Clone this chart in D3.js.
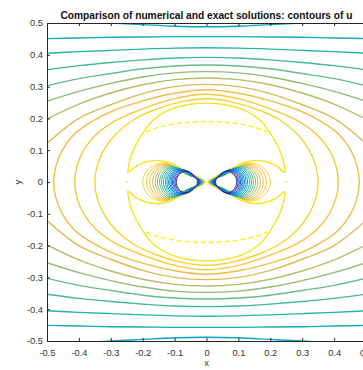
<!DOCTYPE html>
<html>
<head>
<meta charset="utf-8">
<script src="https://cdn.jsdelivr.net/npm/d3@7"></script>
<style>
body { margin: 0; background: #fff; }
text { font-family: "Liberation Sans", Arial, sans-serif; }
</style>
</head>
<body>
<div id="chart"></div>
<script>
// ---- data (upper-left quarter, mirrored later) ----
var xTicks = [-0.5, -0.4, -0.3, -0.2, -0.1, 0, 0.1, 0.2, 0.3, 0.4, 0.5];
var yTicks = [-0.5, -0.4, -0.3, -0.2, -0.1, 0, 0.1, 0.2, 0.3, 0.4, 0.5];
var nLevels = 20;

// line that touches the top edge
var dipLevel = 7;
var dipLine = [[-0.36, 0.503], [-0.3, 0.5], [-0.2, 0.495], [-0.1, 0.49], [0, 0.488]];

// open contours crossing the side edges
var openX = [-0.5, -0.4, -0.3, -0.2, -0.1, 0];
var openLevels = [8, 9, 10, 11, 12, 13, 14];
var openY = [
  [0.451, 0.453, 0.455, 0.456, 0.457, 0.457],
  [0.405, 0.410, 0.414, 0.418, 0.421, 0.422],
  [0.353, 0.366, 0.376, 0.384, 0.390, 0.392],
  [0.303, 0.325, 0.341, 0.356, 0.365, 0.368],
  [0.254, 0.285, 0.310, 0.330, 0.343, 0.347],
  [0.198, 0.245, 0.280, 0.306, 0.322, 0.327],
  [0.121, 0.200, 0.243, 0.278, 0.300, 0.307]
];

// closed ovals around the centre
var ovalLevels = [15, 16, 17];
var ovalPts = [
  [[-0.479, 0], [-0.472, 0.05], [-0.452, 0.1], [-0.415, 0.15], [-0.36, 0.19], [-0.29, 0.225], [-0.2, 0.255], [-0.1, 0.279], [0, 0.29]],
  [[-0.413, 0], [-0.406, 0.05], [-0.385, 0.1], [-0.345, 0.15], [-0.285, 0.193], [-0.2, 0.23], [-0.1, 0.262], [0, 0.276]],
  [[-0.35, 0], [-0.343, 0.05], [-0.322, 0.1], [-0.285, 0.15], [-0.23, 0.195], [-0.16, 0.228], [-0.08, 0.252], [0, 0.262]]
];

// saddle level (saddles at x = +-0.25 and at the origin)
var saddleLevel = 18;
var saddleLoop = [[-0.247, 0.028], [-0.24, 0.07], [-0.225, 0.11], [-0.2, 0.153], [-0.167, 0.195], [-0.12, 0.225], [-0.06, 0.243], [0, 0.248]];
var saddleBranch = [[-0.243, 0.03], [-0.22, 0.05], [-0.19, 0.063], [-0.16, 0.068], [-0.12, 0.062], [-0.08, 0.044], [-0.04, 0.023], [-0.008, 0.005]];
var saddleDots = [-0.25, 0.25];

// exact solution contour that shows apart from the numerical one
var exactLevel = 19;
var exactArc = [[-0.19, 0.158], [-0.15, 0.172], [-0.1, 0.183], [-0.05, 0.188], [0, 0.19]];

// nested lobe contours of the left lobe (right lobe is mirrored)
var lobeLevels = [17, 16, 15, 14, 13, 12, 11, 10, 9, 8, 7, 6, 5, 4, 3, 2, 1, 0];
var lobeLeft = [-0.200, -0.188, -0.178, -0.169, -0.161, -0.154, -0.147, -0.141, -0.135, -0.129, -0.124, -0.119, -0.115, -0.111, -0.107, -0.103, -0.099, -0.095];
var lobeTopX = [-0.135, -0.129, -0.124, -0.119, -0.114, -0.110, -0.105, -0.101, -0.097, -0.093, -0.089, -0.085, -0.081, -0.077, -0.073, -0.069, -0.066, -0.062];
var lobeTopY = [0.060, 0.058, 0.056, 0.054, 0.052, 0.050, 0.048, 0.047, 0.045, 0.044, 0.042, 0.041, 0.040, 0.039, 0.038, 0.037, 0.035, 0.034];
var lobeTailY = [0.028, 0.027, 0.026, 0.025, 0.025, 0.024, 0.024, 0.023, 0.023, 0.023, 0.023, 0.023, 0.023, 0.023, 0.024, 0.024, 0.025, 0.026];
var lobeTip = [-0.004, -0.006, -0.007, -0.009, -0.010, -0.011, -0.012, -0.013, -0.014, -0.015, -0.016, -0.017, -0.019, -0.020, -0.021, -0.023, -0.025, -0.028];

// ---- drawing ----
var width = 363, height = 370;

var x = d3.scaleLinear().domain([-0.5, 0.5]).range([47, 366]);
var y = d3.scaleLinear().domain([-0.5, 0.5]).range([341, 23]);

// parula-like colour map
var parula = d3.scaleLinear()
  .domain([0, 0.125, 0.25, 0.375, 0.5, 0.625, 0.72, 0.8, 0.9, 1])
  .range(["#352a87", "#0f5cdd", "#1481d6", "#06a4ca", "#2eb7a4", "#87bf77", "#d1bb59", "#f7bb3e", "#f6d52c", "#f9f50f"]);
function levelColor(i) { return parula(i / (nLevels - 1)); }

var svg = d3.select('#chart').append('svg')
  .attr('width', width)
  .attr('height', height);

svg.append('defs').append('clipPath').attr('id', 'plotclip')
  .append('rect')
  .attr('x', x(-0.5)).attr('y', y(0.5))
  .attr('width', x(0.5) - x(-0.5)).attr('height', y(-0.5) - y(0.5));

var plot = svg.append('g').attr('clip-path', 'url(#plotclip)');

var line = d3.line()
  .x(function (d) { return x(d[0]); })
  .y(function (d) { return y(d[1]); })
  .curve(d3.curveCatmullRom.alpha(0.5));

var ring = d3.line()
  .x(function (d) { return x(d[0]); })
  .y(function (d) { return y(d[1]); })
  .curve(d3.curveCatmullRomClosed.alpha(0.5));

// left half (ending at x=0) -> full width
function mirrorX(pts) {
  var back = pts.slice(0, -1).reverse().map(function (p) { return [-p[0], p[1]]; });
  return pts.concat(back);
}
function flipY(pts) { return pts.map(function (p) { return [p[0], -p[1]]; }); }
function flipX(pts) { return pts.map(function (p) { return [-p[0], p[1]]; }); }

function drawLine(pts, lev, w, dash) {
  plot.append('path')
    .attr('d', line(pts))
    .attr('fill', 'none')
    .attr('stroke', levelColor(lev))
    .attr('stroke-width', w)
    .attr('stroke-dasharray', dash || null);
}

// dip line, top and bottom
var dipFull = mirrorX(dipLine);
drawLine(dipFull, dipLevel, 1.4);
drawLine(flipY(dipFull), dipLevel, 1.4);

// open lines
openY.forEach(function (row, k) {
  var half = openX.map(function (xv, j) { return [xv, row[j]]; });
  var full = mirrorX(half);
  drawLine(full, openLevels[k], 1.4);
  drawLine(flipY(full), openLevels[k], 1.4);
});

// ovals
ovalPts.forEach(function (q, k) {
  var upper = mirrorX(q);
  var lower = flipY(upper).reverse().slice(1, -1);
  plot.append('path')
    .attr('d', ring(upper.concat(lower)))
    .attr('fill', 'none')
    .attr('stroke', levelColor(ovalLevels[k]))
    .attr('stroke-width', 1.4);
});

// saddle level
var loopFull = mirrorX(saddleLoop);
drawLine(loopFull, saddleLevel, 1.4);
drawLine(flipY(loopFull), saddleLevel, 1.4);
[saddleBranch, flipX(saddleBranch), flipY(saddleBranch), flipY(flipX(saddleBranch))].forEach(function (b) {
  drawLine(b, saddleLevel, 1.4);
});
saddleDots.forEach(function (sx) {
  drawLine([[sx - 0.003, 0], [sx + 0.003, 0]], saddleLevel, 1.4);
});

// lobes
lobeLevels.forEach(function (lev, k) {
  var xl = lobeLeft[k], xt = lobeTopX[k], yt = lobeTopY[k], xr = lobeTip[k], ym = lobeTailY[k];
  var sx = xt - 0.707 * (xt - xl), sy = 0.707 * yt;
  var mx = (xt + xr) / 2;
  var pts = [[xl, 0], [sx, sy], [xt, yt], [mx, ym], [xr, 0], [mx, -ym], [xt, -yt], [sx, -sy]];
  [pts, flipX(pts)].forEach(function (p) {
    plot.append('path')
      .attr('d', ring(p))
      .attr('fill', 'none')
      .attr('stroke', levelColor(lev))
      .attr('stroke-width', 1);
  });
});

// exact solution (dashed)
var exactFull = mirrorX(exactArc);
drawLine(exactFull, exactLevel, 1.4, '5,3');
drawLine(flipY(exactFull), exactLevel, 1.4, '5,3');

// ---- axes ----
var fmt = function (d) { return String(+d.toFixed(1)); };
var axisColor = '#262626';

var gx = svg.append('g')
  .attr('transform', 'translate(0,' + y(-0.5) + ')')
  .call(d3.axisBottom(x).tickValues(xTicks).tickSizeInner(-3).tickSizeOuter(0).tickPadding(8).tickFormat(fmt));
var gy = svg.append('g')
  .attr('transform', 'translate(' + x(-0.5) + ',0)')
  .call(d3.axisLeft(y).tickValues(yTicks).tickSizeInner(-3).tickSizeOuter(0).tickPadding(4).tickFormat(fmt));
var gt = svg.append('g')
  .attr('transform', 'translate(0,' + y(0.5) + ')')
  .call(d3.axisTop(x).tickValues(xTicks).tickSizeInner(-3).tickSizeOuter(0).tickFormat(''));
var gr = svg.append('g')
  .attr('transform', 'translate(' + x(0.5) + ',0)')
  .call(d3.axisRight(y).tickValues(yTicks).tickSizeInner(-3).tickSizeOuter(0).tickFormat(''));

[gx, gy, gt, gr].forEach(function (g) {
  g.selectAll('.domain').attr('stroke', axisColor).attr('stroke-width', 1);
  g.selectAll('.tick line').attr('stroke', axisColor);
  g.selectAll('text')
    .attr('fill', '#333')
    .style('font-size', '9.3px')
    .style('font-family', '"Liberation Sans", Arial, sans-serif');
});

svg.append('text')
  .attr('x', (x(-0.5) + x(0.5)) / 2)
  .attr('y', 19)
  .attr('text-anchor', 'middle')
  .style('font-size', '10.2px')
  .style('font-weight', 'bold')
  .attr('fill', '#111')
  .text('Comparison of numerical and exact solutions: contours of u');

svg.append('text')
  .attr('x', (x(-0.5) + x(0.5)) / 2)
  .attr('y', 366)
  .attr('text-anchor', 'middle')
  .style('font-size', '9.5px')
  .attr('fill', '#333')
  .text('x');

svg.append('text')
  .attr('transform', 'translate(21,' + y(0) + ') rotate(-90)')
  .attr('text-anchor', 'middle')
  .style('font-size', '9.5px')
  .attr('fill', '#333')
  .text('y');
</script>
</body>
</html>
